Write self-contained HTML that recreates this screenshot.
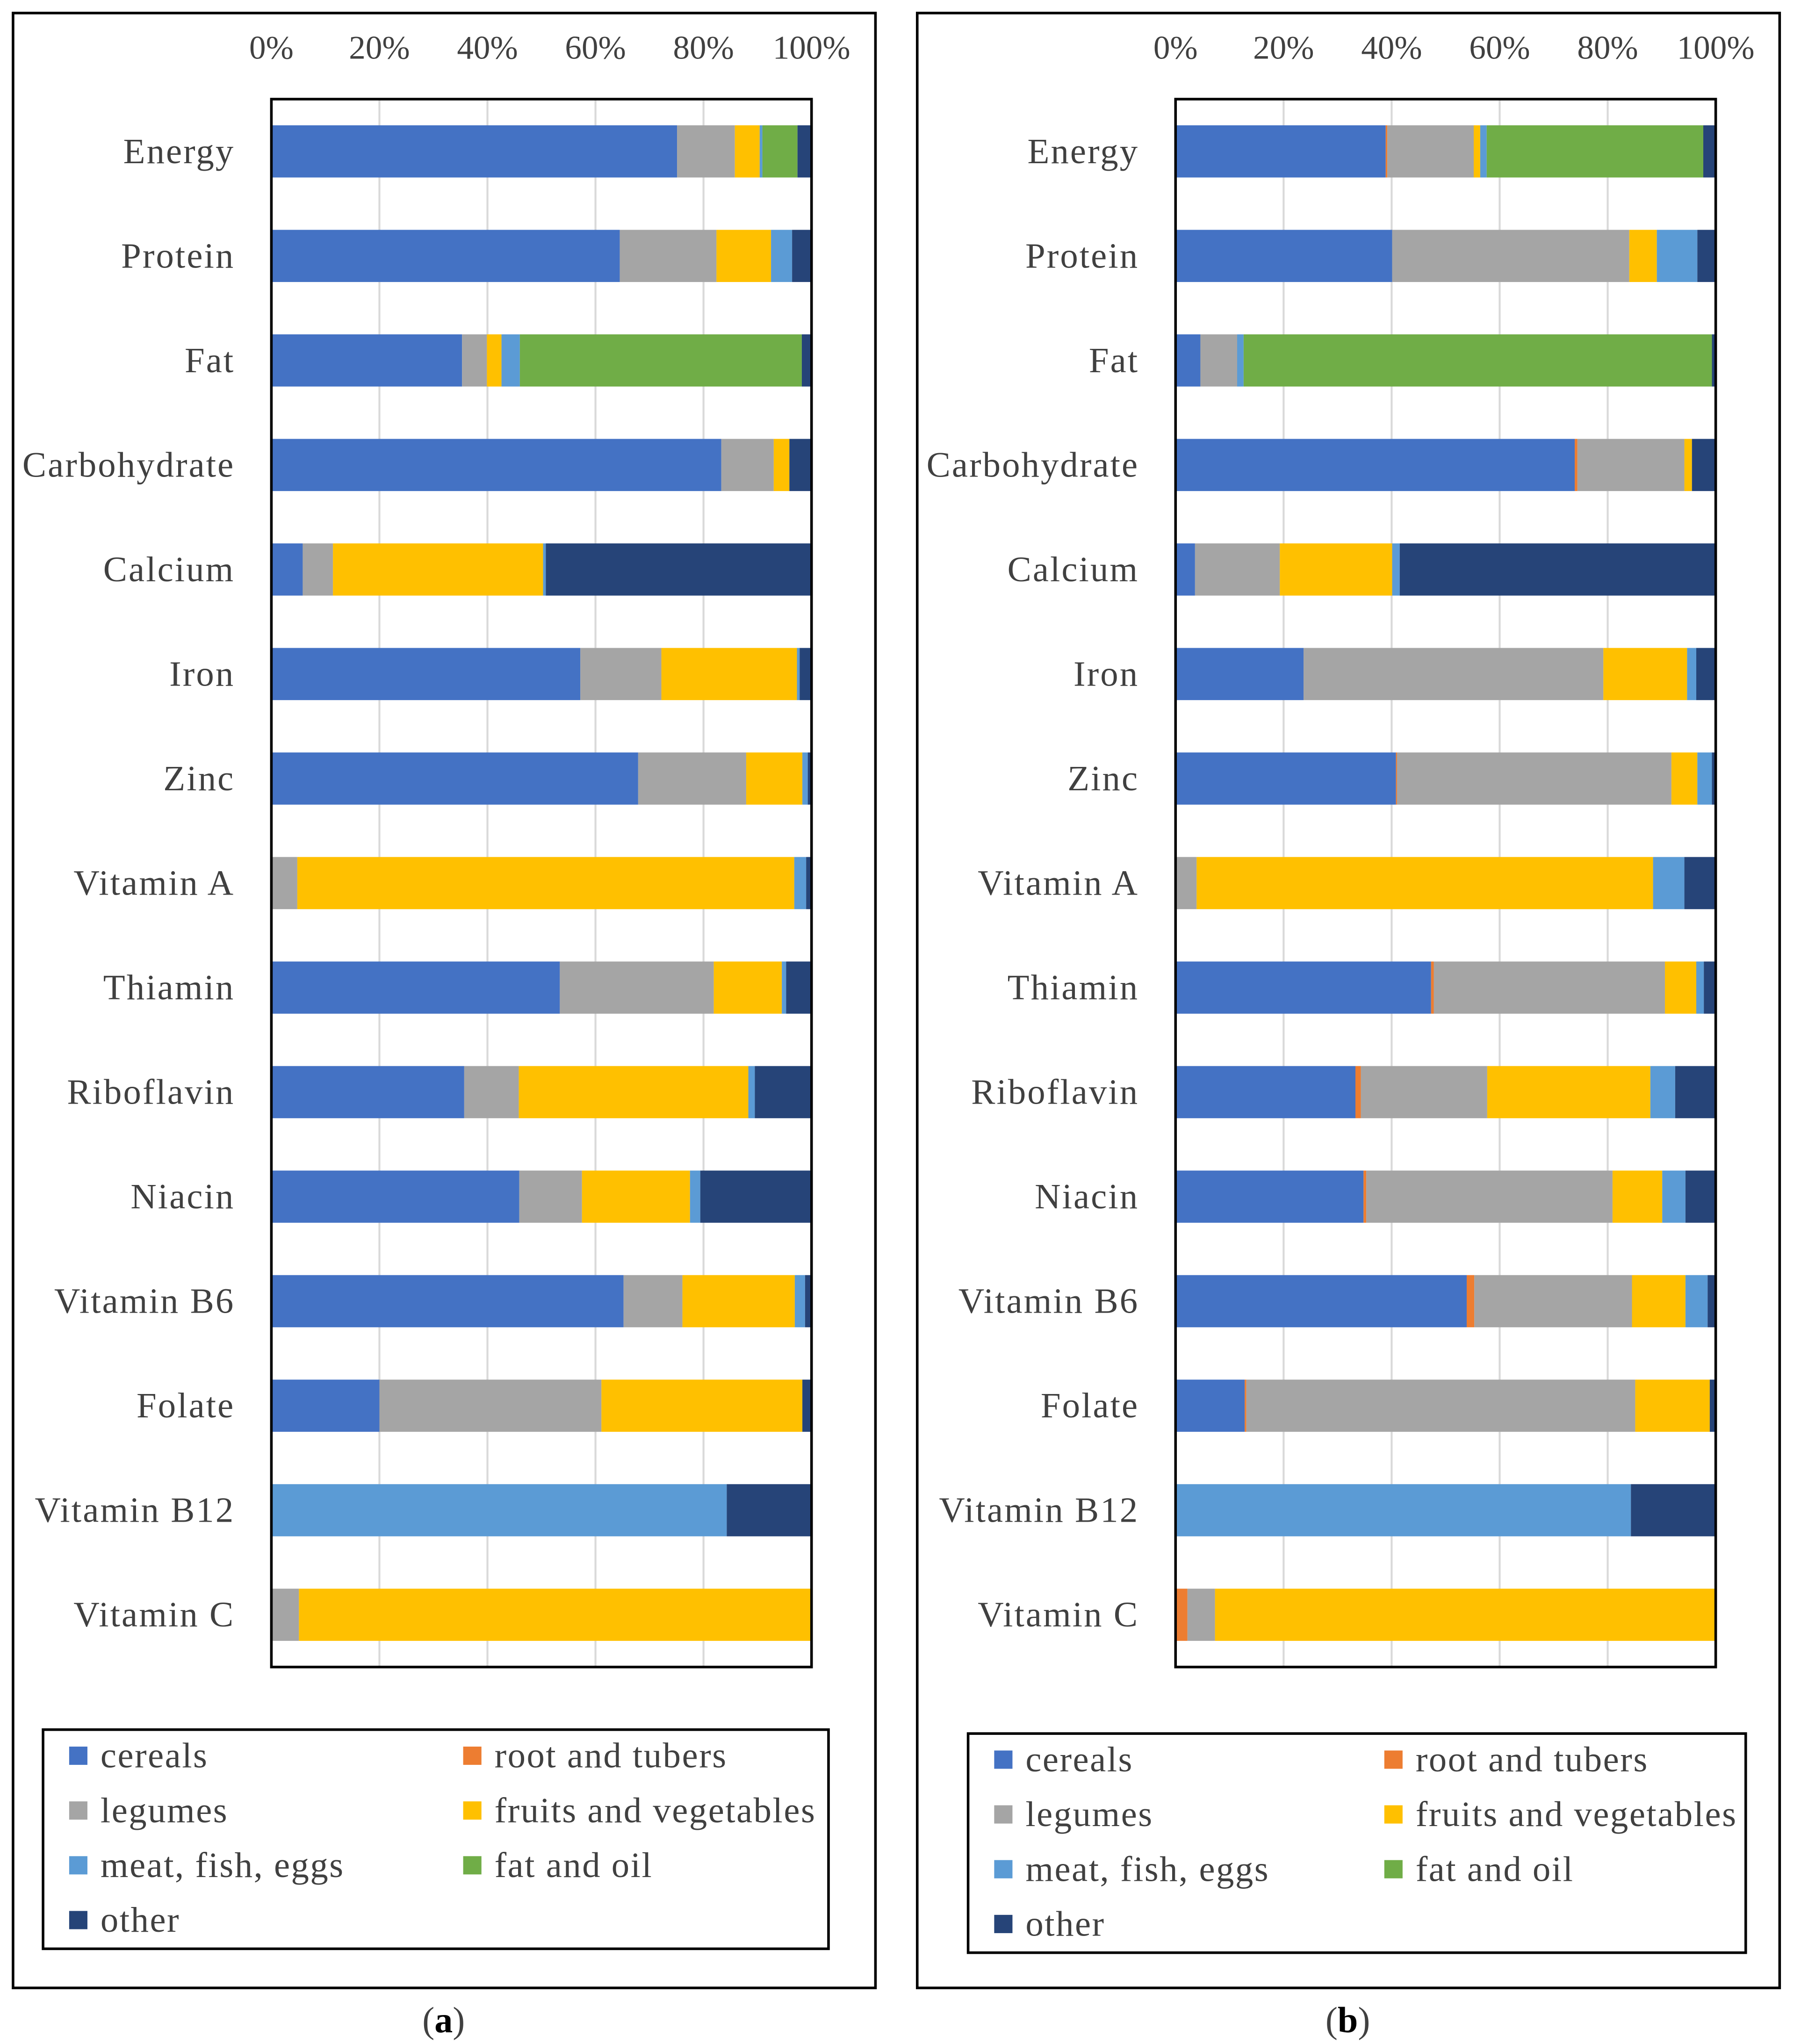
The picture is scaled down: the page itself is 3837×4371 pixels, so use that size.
<!DOCTYPE html>
<html><head><meta charset="utf-8">
<style>
html,body{margin:0;padding:0;background:#fff;}
svg{display:block;}
text{font-family:"Liberation Serif",serif;fill:#404040;}
</style></head>
<body>
<svg id="fig" width="3837" height="4371" viewBox="0 0 1375 1567" preserveAspectRatio="none" xmlns="http://www.w3.org/2000/svg"></svg>
<script>
const categories = ["Energy","Protein","Fat","Carbohydrate","Calcium","Iron","Zinc","Vitamin A","Thiamin","Riboflavin","Niacin","Vitamin B6","Folate","Vitamin B12","Vitamin C"];
const seriesNames = ["cereals","root and tubers","legumes","fruits and vegetables","meat, fish, eggs","fat and oil","other"];
const seriesColors = ["#4472C4","#ED7D31","#A5A5A5","#FFC000","#5B9BD5","#70AD47","#264478"];
const tickLabels = ["0%","20%","40%","60%","80%","100%"];
const tickValues = [0,20,40,60,80,100];
// per category [cereals, roots, legumes, fruits, meat, fat, other]
const dataA = [
 [75.1,0,10.7,4.6,0.5,6.5,2.6],
 [64.5,0,17.9,10.1,3.9,0,3.6],
 [35.3,0,4.6,2.7,3.4,52.2,1.8],
 [83.3,0,9.7,2.9,0,0,4.1],
 [5.8,0,5.6,38.9,0.5,0,49.2],
 [57.2,0,15.0,25.1,0.5,0,2.2],
 [67.9,0,20.0,10.4,1.0,0,0.7],
 [0,0,4.8,92.0,2.2,0,1.0],
 [53.4,0,28.5,12.6,0.8,0,4.7],
 [35.7,0,10.1,42.5,1.2,0,10.5],
 [45.9,0,11.6,20.0,1.9,0,20.6],
 [65.2,0,10.9,20.8,1.9,0,1.2],
 [20.0,0,41.1,37.2,0,0,1.7],
 [0,0,0,0,84.3,0,15.7],
 [0,0,5.1,94.9,0,0,0]
];
const dataB = [
 [38.9,0.3,16.0,1.2,1.2,40.1,2.3],
 [40.1,0,43.9,5.1,7.5,0,3.4],
 [4.6,0,6.8,0,1.2,86.7,0.7],
 [73.9,0.5,19.8,1.4,0,0,4.4],
 [3.6,0,15.7,20.8,1.4,0,58.5],
 [23.7,0,55.5,15.5,1.7,0,3.6],
 [40.8,0.2,50.8,4.8,2.7,0,0.7],
 [0,0,3.9,84.5,5.8,0,5.8],
 [47.3,0.5,42.8,5.8,1.4,0,2.2],
 [33.3,1.0,23.4,30.2,4.6,0,7.5],
 [34.8,0.5,45.6,9.2,4.3,0,5.6],
 [53.9,1.4,29.2,9.9,4.1,0,1.5],
 [12.8,0.3,72.0,13.8,0,0,1.1],
 [0,0,0,0,84.3,0,15.7],
 [0,2.2,5.1,92.7,0,0,0]
];
const NS="http://www.w3.org/2000/svg";
const svg=document.getElementById('fig');
function mk(tag,attrs,parent){const e=document.createElementNS(NS,tag);for(const k in attrs)e.setAttribute(k,attrs[k]);(parent||svg).appendChild(e);return e;}
function panel(id,ox,data,legX,legY,legW,colGap,letter){
  const g=mk('g',{});
  
  
  const border=mk('rect',{x:ox,y:10,width:661,height:1514,fill:'none',stroke:'#000','stroke-width':2},g);
  
  
  const px=ox+198, pw=414, py=76, ph=1202;
  const xs=v=>px+v/100*pw;
  const step=ph/categories.length;
  const yc=i=>py+step*(i+0.5);
  tickValues.forEach((v,i)=>{
    if(v>0&&v<100){const l=mk('line',{x1:xs(v),x2:xs(v),y1:py,y2:py+ph,stroke:'#d9d9d9','stroke-width':1.5},g);
    
    }
    const t=mk('text',{x:xs(v),y:45,'font-size':25.5,'text-anchor':'middle'},g);
    t.textContent=tickLabels[i];
    
    
  });
  data.forEach((row,i)=>{
    let acc=0;
    row.forEach((v,s)=>{
      if(v>0){const r=mk('rect',{x:xs(acc),y:yc(i)-20,width:xs(acc+v)-xs(acc),height:40,fill:seriesColors[s]},g);
      
      }
      acc+=v;
    });
    const t=mk('text',{x:px-28,y:yc(i)+9,'font-size':27.5,'letter-spacing':1.1,'text-anchor':'end'},g);
    t.textContent=categories[i];
    
    
  });
  const pr=mk('rect',{x:px,y:py,width:pw,height:ph,fill:'none',stroke:'#000','stroke-width':2},g);
  
  
  const lg=mk('rect',{x:legX,y:legY,width:legW,height:168,fill:'none',stroke:'#000','stroke-width':2},g);
  
  
  seriesNames.forEach((n,s)=>{
    const col=s%2, row=Math.floor(s/2);
    const lx=legX+20+col*colGap, ly=legY+20+row*42;
    const sq=mk('rect',{x:lx,y:ly-7,width:14,height:14,fill:seriesColors[s]},g);
    
    
    const t=mk('text',{x:lx+24,y:ly+9,'font-size':27.5,'letter-spacing':0.9},g);
    t.textContent=n;
    
    
  });
  const cap=mk('text',{x:ox+330,y:1558,'font-size':28,'text-anchor':'middle'},g);
  cap.innerHTML='(<tspan font-weight="bold" fill="#000">'+letter+'</tspan>)';
  cap.setAttribute('fill','#000');
  
  
}
panel('a',10,dataA,33,1326,602,302,'a');
panel('b',703,dataB,742,1329,596,299,'b');
</script>
</body></html>
